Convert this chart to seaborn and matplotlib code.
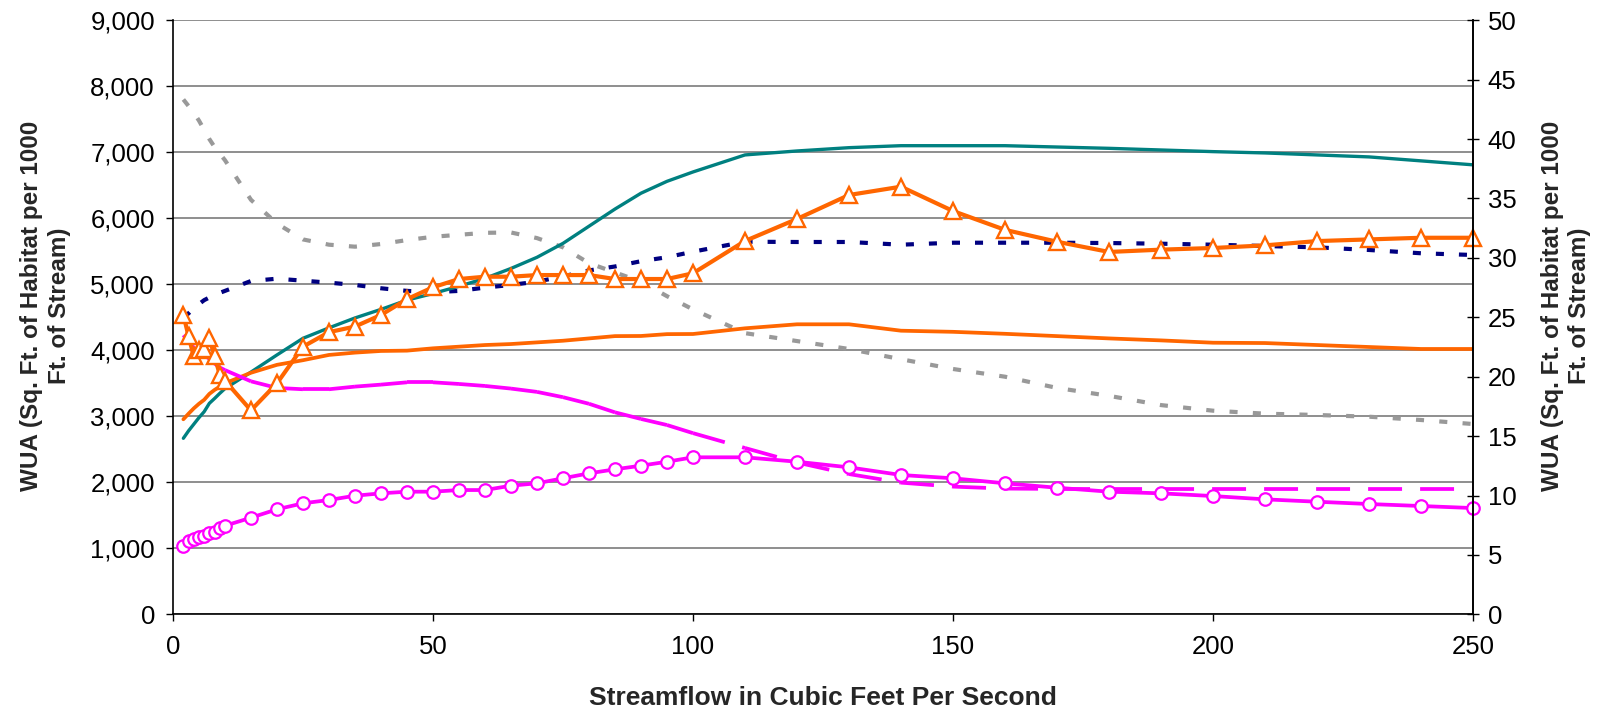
import matplotlib
matplotlib.use("Agg")
import matplotlib.pyplot as plt
import numpy as np
import seaborn as sns
from matplotlib.collections import LineCollection
from matplotlib.ticker import MultipleLocator, StrMethodFormatter

# streamflow (cfs) of the habitat runs
flow = [2, 3, 4, 5, 6, 7, 8, 9, 10,
        15, 20, 25, 30, 35, 40, 45, 50, 55, 60, 65, 70, 75, 80, 85, 90, 95, 100,
        110, 120, 130, 140, 150, 160, 170, 180, 190, 200, 210, 220, 230, 240, 250]

# WUA (sq ft per 1000 ft) per curve, named by line colour
teal_wua = [2667, 2780, 2880, 2980, 3070, 3197, 3270, 3348, 3420,
            3670, 3930, 4182, 4340, 4490, 4620, 4760, 4860, 4970, 5090, 5240, 5409, 5620, 5880, 6140, 6380, 6560, 6702,
            6960, 7020, 7070, 7100, 7100, 7100, 7080, 7060, 7035, 7010, 6990, 6960, 6930, 6870, 6810]

orange_wua = [2955, 3040, 3120, 3190, 3250, 3340, 3400, 3450, 3500,
              3660, 3780, 3850, 3930, 3965, 3990, 3995, 4030, 4055, 4080, 4095, 4120, 4145, 4180, 4215, 4217, 4245, 4247,
              4333, 4394, 4394, 4297, 4280, 4250, 4215, 4180, 4150, 4115, 4110, 4080, 4050, 4020, 4020]

orange_tri_wua = [4540, 4210, 3910, 4000, 4020, 4180, 3910, 3630, 3540,
                  3090, 3500, 4055, 4275, 4360, 4535, 4775, 4955, 5080, 5115, 5115, 5140, 5140, 5140, 5080, 5080, 5080, 5167,
                  5656, 5990, 6353, 6479, 6110, 5825, 5645, 5490, 5525, 5550, 5590, 5655, 5680, 5705, 5705]

navy_wua = [4500, 4560, 4640, 4700, 4760, 4800, 4840, 4870, 4900,
            5050, 5085, 5055, 5025, 4990, 4940, 4900, 4880, 4900, 4950, 4990, 5040, 5120, 5210, 5270, 5350, 5410, 5494,
            5645, 5641, 5641, 5600, 5630, 5630, 5630, 5625, 5615, 5600, 5580, 5560, 5520, 5470, 5444]

gray_wua = [7800, 7700, 7600, 7480, 7340, 7200, 7080, 6980, 6880,
            6280, 5920, 5680, 5600, 5570, 5610, 5670, 5720, 5750, 5780, 5785, 5700, 5560, 5320, 5180, 5040, 4820, 4620,
            4260, 4140, 4020, 3865, 3717, 3600, 3430, 3310, 3170, 3085, 3040, 3020, 2994, 2944, 2883]

magenta_wua = [4230, 4130, 4040, 3980, 3930, 3870, 3800, 3740, 3700,
               3530, 3430, 3410, 3410, 3450, 3480, 3515, 3515, 3490, 3460, 3420, 3370, 3290, 3190, 3060, 2960, 2868, 2745,
               2520, 2300, 2125, 1995, 1935, 1905, 1900, 1900, 1900, 1900, 1900, 1900, 1900, 1900, 1900]

magenta_circ_wua = [1035, 1115, 1141, 1167, 1191, 1227, 1252, 1303, 1342,
                    1464, 1591, 1682, 1732, 1797, 1833, 1858, 1858, 1883, 1883, 1949, 1985, 2061, 2136, 2197, 2252, 2312, 2379,
                    2379, 2312, 2227, 2111, 2061, 1985, 1918, 1858, 1833, 1792, 1742, 1706, 1671, 1641, 1610]

ylabel = "WUA (Sq. Ft. of Habitat per 1000\nFt. of Stream)"

sns.set_theme(style="white")
plt.rcParams["font.family"] = ["Liberation Sans", "DejaVu Sans"]
plt.rcParams["lines.scale_dashes"] = False

fig = plt.figure(figsize=(16.06, 7.14), dpi=100)
ax = fig.add_axes([0.1077, 0.1396, 0.8095, 0.832])

ax.yaxis.grid(True, color="#707070", lw=1.1)
ax.set_axisbelow(True)

sns.lineplot(x=flow, y=gray_wua, ax=ax, color="#999999", lw=3.0,
             linestyle=(0, (5.8, 11.0)), estimator=None)
sns.lineplot(x=flow, y=navy_wua, ax=ax, color="#000080", lw=3.0,
             linestyle=(0, (5.8, 10.8)), estimator=None)
sns.lineplot(x=flow, y=teal_wua, ax=ax, color="#008080", lw=2.4, estimator=None)
sns.lineplot(x=flow, y=orange_wua, ax=ax, color="#FF6600", lw=2.7, estimator=None)

# excel restarts the long dash on every segment, so draw it segment by segment
pts = np.column_stack([flow, magenta_wua])
segs = np.stack([pts[:-1], pts[1:]], axis=1)
ax.add_collection(LineCollection(segs, colors="#FF00FF", linewidths=2.7,
                                 linestyles=[(0, (23.8, 13.0))], capstyle="butt"))

sns.lineplot(x=flow, y=magenta_circ_wua, ax=ax, color="#FF00FF", lw=2.7,
             marker="o", ms=9, mfc="white", mec="#FF00FF", mew=1.6,
             clip_on=False, estimator=None)
sns.lineplot(x=flow, y=orange_tri_wua, ax=ax, color="#FF6600", lw=3.0,
             marker="^", ms=11.5, mfc="white", mec="#FF6600", mew=1.7,
             clip_on=False, estimator=None)

ax.set_xlim(0, 250)
ax.set_ylim(0, 9000)
ax.xaxis.set_major_locator(MultipleLocator(50))
ax.yaxis.set_major_locator(MultipleLocator(1000))
ax.yaxis.set_major_formatter(StrMethodFormatter("{x:,.0f}"))
ax.tick_params(axis="both", labelsize=18.5, colors="black", direction="out",
               length=5, width=1)
ax.tick_params(axis="x", pad=10, bottom=True)
ax.tick_params(axis="y", pad=8, left=True)

ax.set_xlabel("Streamflow in Cubic Feet Per Second", fontsize=19, fontweight="bold")
ax.set_ylabel(ylabel, fontsize=17.5, fontweight="bold", linespacing=1.25)
ax.xaxis.set_label_coords(0.5, -0.12)
ax.yaxis.set_label_coords(-0.0787, 0.52)

for side in ["left", "bottom", "right"]:
    ax.spines[side].set_color("black")
    ax.spines[side].set_linewidth(1.2)
ax.spines["top"].set_visible(False)

ax2 = ax.twinx()
ax2.set_ylim(0, 50)
ax2.yaxis.set_major_locator(MultipleLocator(5))
ax2.tick_params(axis="y", labelsize=18.5, colors="black", direction="inout",
                length=9, width=1, pad=6, right=True)
ax2.set_ylabel(ylabel, fontsize=17.5, fontweight="bold", linespacing=1.25, rotation=90)
ax2.yaxis.set_label_coords(1.052, 0.52)
ax2.spines["right"].set_color("black")
ax2.spines["right"].set_linewidth(1.2)
for side in ["top", "left", "bottom"]:
    ax2.spines[side].set_visible(False)

fig.savefig("out.png", dpi=100)
